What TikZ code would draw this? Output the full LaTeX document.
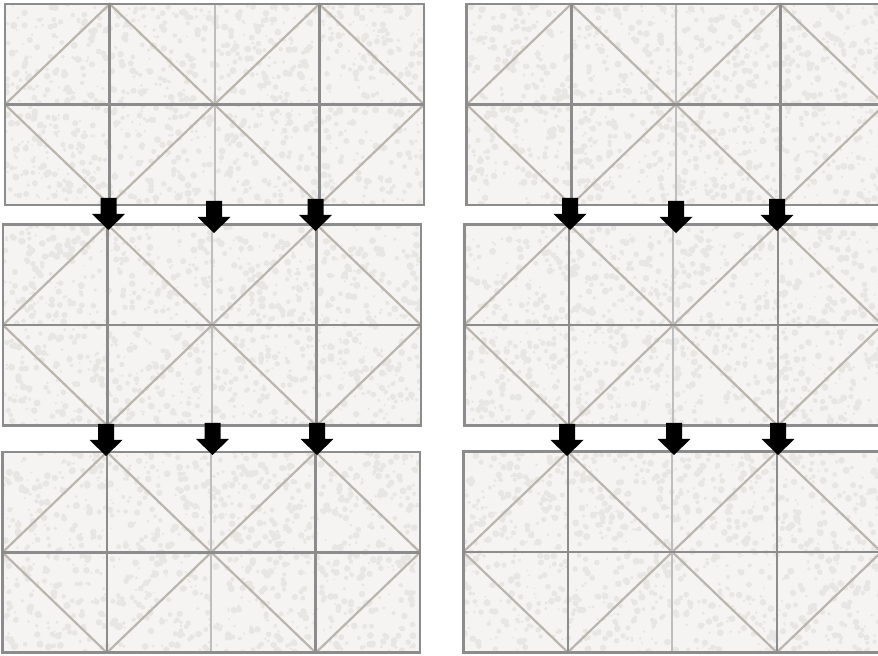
\documentclass[tikz,border=0pt]{standalone}
\usetikzlibrary{calc}
\definecolor{tilefill}{RGB}{245,244,243}
\definecolor{flower}{RGB}{232,230,227}
\definecolor{gridline}{RGB}{140,140,140}
\definecolor{midline}{RGB}{190,190,190}
\definecolor{diagline}{RGB}{188,181,173}
\tikzset{
  gridstroke/.style={draw=gridline, line width=1.3pt},
  midstroke/.style={draw=midline, line width=1pt},
  diagstroke/.style={draw=diagline, line width=1.1pt},
  arrowshape/.style={fill=black, draw=none},
  blob/.style={fill=flower, draw=none},
}
\pgfmathsetseed{4242}
% \quiltblock{x0}{y0}{tile width}{y1}
\newcommand{\quiltblock}[4]{%
  \pgfmathsetmacro{\xa}{#1}%
  \pgfmathsetmacro{\ya}{#2}%
  \pgfmathsetmacro{\tw}{#3}%
  \pgfmathsetmacro{\yc}{#4}%
  \pgfmathsetmacro{\yb}{(\ya+\yc)/2}%
  \pgfmathsetmacro{\xb}{\xa+\tw}%
  \pgfmathsetmacro{\xc}{\xa+2*\tw}%
  \pgfmathsetmacro{\xd}{\xa+3*\tw}%
  \pgfmathsetmacro{\xe}{\xa+4*\tw}%
  \fill[tilefill] (\xa,\ya) rectangle (\xe,\yc);
  \begin{scope}
    \clip (\xa,\ya) rectangle (\xe,\yc);
    \foreach \k in {1,...,1100}{%
      \pgfmathsetmacro{\bx}{\xa+rnd*(\xe-\xa)}%
      \pgfmathsetmacro{\by}{\ya+rnd*(\yc-\ya)}%
      \pgfmathsetmacro{\br}{1+rnd*2.6}%
      \fill[blob] (\bx,\by) circle[radius=\br];
    }
  \end{scope}
  % diagonals forming diamonds
  \draw[diagstroke] (\xa,\yb) -- (\xb,\ya) -- (\xc,\yb) -- (\xd,\ya) -- (\xe,\yb);
  \draw[diagstroke] (\xa,\yb) -- (\xb,\yc) -- (\xc,\yb) -- (\xd,\yc) -- (\xe,\yb);
  % grid
  \draw[midstroke] (\xc,\ya) -- (\xc,\yc);
  \draw[gridstroke] (\xb,\ya) -- (\xb,\yc) (\xd,\ya) -- (\xd,\yc);
  \draw[gridstroke] (\xa,\yb) -- (\xe,\yb);
  \draw[gridstroke] (\xa,\ya) rectangle (\xe,\yc);
}
% \downarrowat{tip x}{tip y}
\newcommand{\downarrowat}[2]{%
  \fill[arrowshape] (#1-8,#2-32) -- (#1+8,#2-32) -- (#1+8,#2-16) -- (#1+16.5,#2-16)
    -- (#1,#2) -- (#1-16.5,#2-16) -- (#1-8,#2-16) -- cycle;
}
\begin{document}
\begin{tikzpicture}[x=0.5pt,y=-0.5pt]
\useasboundingbox (0,0) rectangle (878,656);
\fill[white] (0,0) rectangle (878,656);
\begin{scope}
\clip (0,0) rectangle (878,656);
% left column
\quiltblock{5}{4}{104.75}{205}
\quiltblock{3}{224.5}{104.5}{425.7}
\quiltblock{2.5}{452}{104.4}{652.7}
% right column
\quiltblock{466.7}{4}{104.5}{205}
\quiltblock{464.3}{224.3}{104.5}{425.7}
\quiltblock{463.3}{451.7}{104.5}{652.3}
% arrows
\downarrowat{108.5}{230}
\downarrowat{214}{233}
\downarrowat{315.5}{231}
\downarrowat{106}{456}
\downarrowat{212.5}{455}
\downarrowat{317}{455}
\downarrowat{570}{230}
\downarrowat{676}{233}
\downarrowat{777}{231}
\downarrowat{567}{456}
\downarrowat{674}{455}
\downarrowat{778}{455}
\end{scope}
\end{tikzpicture}
\end{document}
